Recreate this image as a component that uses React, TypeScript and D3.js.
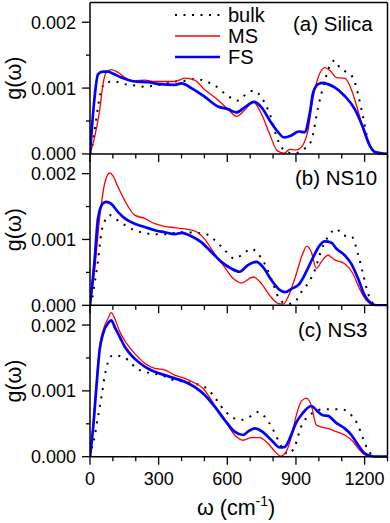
import React from "react";
import * as d3 from "d3";

// phonon density of states g(w); values below are in units of 1e-3
const G_UNIT = 1e-3;

const silicaBulk: [number, number][] = [
  [0, 0], [6, 0.05], [20, 0.35], [35, 0.71], [50, 0.98], [71, 1.09], [108, 1.1], [152, 1.06],
  [195, 1.04], [239, 1.02], [283, 1.04], [326, 1.06], [370, 1.1], [414, 1.11], [457, 1.14],
  [500, 1.11], [545, 1.04], [603, 0.88], [646, 0.81], [690, 0.93], [716, 0.96], [749, 0.86],
  [785, 0.61], [822, 0.2], [858, 0.03], [894, 0.01], [938, 0.08], [967, 0.2], [997, 0.71],
  [1026, 1.11], [1048, 1.34], [1069, 1.42], [1091, 1.31], [1120, 1.24], [1149, 1.16],
  [1171, 0.91], [1193, 0.56], [1215, 0.2], [1237, 0.05], [1258, 0], [1300, 0],
];
const silicaMS: [number, number][] = [
  [0, 0], [20, 0.25], [42, 0.66], [57, 1.06], [71, 1.24], [93, 1.28], [122, 1.24], [152, 1.16],
  [195, 1.11], [239, 1.12], [283, 1.1], [326, 1.1], [370, 1.1], [414, 1.15], [457, 1.12],
  [500, 0.98], [545, 0.86], [603, 0.68], [640, 0.57], [677, 0.67], [713, 0.79], [749, 0.61],
  [785, 0.3], [818, 0.05], [850, 0.01], [872, 0.07], [900, 0.06], [929, 0.13], [952, 0.35],
  [975, 0.86], [997, 1.16], [1026, 1.31], [1048, 1.27], [1077, 1.16], [1113, 1.15],
  [1142, 0.98], [1171, 0.66], [1200, 0.3], [1229, 0.08], [1258, 0.01], [1300, 0],
];
const silicaFS: [number, number][] = [
  [0, 0], [20, 0.86], [35, 1.21], [57, 1.25], [79, 1.25], [100, 1.22], [137, 1.16], [195, 1.1],
  [253, 1.09], [304, 1.06], [370, 1.05], [400, 1.07], [443, 1.0], [500, 0.87], [559, 0.72],
  [603, 0.68], [640, 0.63], [677, 0.71], [717, 0.79], [749, 0.71], [785, 0.51], [822, 0.33],
  [848, 0.25], [880, 0.28], [912, 0.34], [938, 0.33], [960, 0.61], [975, 0.93], [997, 1.06],
  [1018, 1.08], [1040, 1.06], [1069, 1.01], [1113, 0.88], [1157, 0.68], [1193, 0.4],
  [1222, 0.13], [1245, 0.03], [1300, 0],
];

const ns10Bulk: [number, number][] = [
  [0, 0], [6, 0.05], [20, 0.33], [35, 0.68], [50, 1.11], [71, 1.32], [86, 1.37], [108, 1.32],
  [152, 1.22], [195, 1.14], [239, 1.1], [283, 1.08], [326, 1.08], [370, 1.1], [414, 1.11],
  [457, 1.1], [500, 1.09], [545, 0.99], [588, 0.84], [632, 0.71], [669, 0.78], [705, 0.86],
  [734, 0.78], [771, 0.58], [800, 0.33], [830, 0.08], [865, 0.02], [894, 0.05], [923, 0.2],
  [952, 0.33], [982, 0.53], [1011, 0.84], [1040, 1.04], [1077, 1.16], [1106, 1.06],
  [1142, 1.05], [1171, 0.78], [1193, 0.48], [1215, 0.18], [1237, 0.03], [1260, 0], [1300, 0],
];
const ns10MS: [number, number][] = [
  [0, 0], [20, 0.53], [42, 1.32], [64, 1.85], [86, 2.01], [100, 1.97], [122, 1.8], [152, 1.59],
  [195, 1.37], [239, 1.32], [283, 1.24], [326, 1.2], [370, 1.18], [414, 1.16], [457, 1.13],
  [500, 1.01], [545, 0.78], [588, 0.58], [625, 0.41], [662, 0.34], [713, 0.43], [749, 0.33],
  [785, 0.15], [822, 0.03], [844, 0.02], [872, 0.18], [900, 0.46], [929, 0.78], [948, 0.9],
  [967, 0.81], [989, 0.56], [1011, 0.66], [1040, 0.76], [1069, 0.69], [1113, 0.63],
  [1149, 0.48], [1178, 0.25], [1207, 0.08], [1237, 0.01], [1300, 0],
];
const ns10FS: [number, number][] = [
  [0, 0], [20, 0.68], [35, 1.32], [57, 1.55], [71, 1.57], [93, 1.54], [122, 1.42], [152, 1.32],
  [195, 1.24], [239, 1.19], [283, 1.14], [326, 1.11], [370, 1.08], [400, 1.1], [443, 1.05],
  [486, 0.96], [530, 0.81], [574, 0.66], [617, 0.56], [654, 0.51], [690, 0.61], [727, 0.66],
  [756, 0.58], [793, 0.38], [830, 0.23], [852, 0.2], [880, 0.25], [916, 0.33], [945, 0.51],
  [975, 0.73], [1004, 0.91], [1026, 0.97], [1055, 0.95], [1077, 0.86], [1113, 0.76],
  [1142, 0.63], [1171, 0.41], [1200, 0.15], [1229, 0.03], [1250, 0], [1300, 0],
];

const ns3Bulk: [number, number][] = [
  [0, 0], [6, 0.1], [20, 0.3], [35, 0.61], [50, 0.91], [64, 1.22], [79, 1.44], [100, 1.54],
  [130, 1.53], [166, 1.47], [203, 1.34], [239, 1.29], [283, 1.26], [326, 1.22], [370, 1.16],
  [414, 1.14], [457, 1.11], [500, 1.06], [537, 0.94], [574, 0.76], [617, 0.61], [662, 0.56],
  [705, 0.62], [734, 0.68], [763, 0.61], [800, 0.41], [837, 0.15], [865, 0.04], [894, 0.15],
  [923, 0.46], [952, 0.61], [982, 0.68], [1011, 0.72], [1055, 0.72], [1098, 0.72],
  [1142, 0.63], [1171, 0.48], [1193, 0.28], [1215, 0.1], [1237, 0.02], [1260, 0], [1300, 0],
];
const ns3MS: [number, number][] = [
  [0, 0], [13, 0.46], [28, 1.11], [42, 1.67], [57, 1.92], [79, 2.1], [93, 2.19], [108, 2.1],
  [130, 1.9], [160, 1.72], [195, 1.57], [239, 1.42], [283, 1.34], [326, 1.32], [370, 1.24],
  [414, 1.19], [457, 1.12], [493, 1.04], [545, 0.78], [588, 0.56], [632, 0.33], [669, 0.25],
  [705, 0.29], [741, 0.29], [778, 0.2], [808, 0.08], [834, 0.01], [858, 0.08], [880, 0.3],
  [900, 0.61], [923, 0.84], [945, 0.89], [967, 0.78], [989, 0.48], [1011, 0.45],
  [1040, 0.43], [1077, 0.38], [1113, 0.33], [1149, 0.23], [1178, 0.1], [1200, 0.03],
  [1230, 0], [1300, 0],
];
const ns3FS: [number, number][] = [
  [0, 0], [13, 0.41], [28, 1.06], [42, 1.62], [57, 1.87], [79, 2.03], [93, 2.07], [108, 1.97],
  [130, 1.82], [152, 1.67], [195, 1.49], [239, 1.37], [283, 1.29], [326, 1.24], [370, 1.19],
  [414, 1.14], [457, 1.06], [500, 0.94], [545, 0.76], [588, 0.56], [632, 0.38], [669, 0.33],
  [690, 0.38], [720, 0.43], [749, 0.39], [793, 0.25], [830, 0.14], [852, 0.15], [873, 0.28],
  [900, 0.51], [929, 0.66], [967, 0.77], [997, 0.68], [1018, 0.63], [1040, 0.62],
  [1077, 0.51], [1113, 0.43], [1142, 0.33], [1171, 0.18], [1200, 0.05], [1229, 0.01],
  [1250, 0], [1300, 0],
];

const panelLabels = ["(a) Silica", "(b) NS10", "(c) NS3"];
const seriesNames = ["bulk", "MS", "FS"];
const xMajorTicks = [0, 300, 600, 900, 1200];
const xMinorTicks = [100, 200, 400, 500, 700, 800, 1000, 1100, 1300];
const yMajorTicks = [0, 0.001, 0.002];
const yMinorTicks = [0.0005, 0.0015];

const panelData = [
  [silicaBulk, silicaMS, silicaFS],
  [ns10Bulk, ns10MS, ns10FS],
  [ns3Bulk, ns3MS, ns3FS],
];

const W = 390;
const H = 523;
const left = 90;
const right = 387.5;
const top = 2.5;
const panelH = 151.4;
const font = "'Liberation Sans', Arial, Helvetica, sans-serif";

const styles = [
  { stroke: "#000", width: 2, dash: "2 6.5" },
  { stroke: "#ff0000", width: 1.3, dash: undefined },
  { stroke: "#0000ff", width: 2.7, dash: undefined },
];

// label placement per panel (x, baseline)
const labelPos = [
  [293, 30.7],
  [295, 185],
  [298, 336.7],
];

export default function App() {
  const x = d3.scaleLinear().domain([0, 1300]).range([left, right]);

  return (
    <svg
      width={W}
      height={H}
      style={{ position: "absolute", left: 0, top: 0, background: "#fff" }}
      fontFamily={font}
    >
      {panelData.map((series, i) => {
        const y0 = top + i * panelH;
        const y = d3.scaleLinear().domain([0, 0.0023]).range([y0 + panelH, y0]);
        const line = d3
          .line<[number, number]>()
          .x((d) => x(d[0]))
          .y((d) => y(d[1] * G_UNIT))
          .curve(d3.curveMonotoneX);
        const bottom = y(0);
        return (
          <g key={i}>
            <defs>
              <clipPath id={`clip${i}`}>
                <rect x={left} y={y0 - 1} width={right - left} height={panelH + 2} />
              </clipPath>
            </defs>
            <g clipPath={`url(#clip${i})`}>
              {series.map((d, k) => (
                <path
                  key={k}
                  d={line(d) || ""}
                  fill="none"
                  stroke={styles[k].stroke}
                  strokeWidth={styles[k].width}
                  strokeDasharray={styles[k].dash}
                  strokeLinejoin="round"
                />
              ))}
            </g>
            {/* frame */}
            <line x1={left} x2={left} y1={y0} y2={bottom} stroke="#000" strokeWidth={1.5} />
            <line x1={right} x2={right} y1={y0} y2={bottom} stroke="#000" strokeWidth={1.5} />
            <line x1={left} x2={right} y1={bottom} y2={bottom} stroke="#000" strokeWidth={1.5} />
            {i === 0 && (
              <line x1={left} x2={right} y1={y0} y2={y0} stroke="#000" strokeWidth={1.5} />
            )}
            {xMajorTicks.map((t) => (
              <line key={t} x1={x(t)} x2={x(t)} y1={bottom} y2={bottom + 8} stroke="#000" strokeWidth={1.3} />
            ))}
            {xMinorTicks.map((t) => (
              <line key={t} x1={x(t)} x2={x(t)} y1={bottom} y2={bottom + 4.5} stroke="#000" strokeWidth={1.3} />
            ))}
            {yMajorTicks.map((t) => (
              <g key={t}>
                <line x1={left - 8} x2={left} y1={y(t)} y2={y(t)} stroke="#000" strokeWidth={1.3} />
                <text x={76} y={y(t)} dy="0.36em" textAnchor="end" fontSize={18}>
                  {d3.format(".3f")(t)}
                </text>
              </g>
            ))}
            {yMinorTicks.map((t) => (
              <line key={t} x1={left - 4} x2={left} y1={y(t)} y2={y(t)} stroke="#000" strokeWidth={1.3} />
            ))}
            <text x={labelPos[i][0]} y={labelPos[i][1]} fontSize={20.5}>
              {panelLabels[i]}
            </text>
            <text
              transform={`translate(20.5, ${y0 + panelH / 2}) rotate(-90)`}
              textAnchor="middle"
              fontSize={21.5}
            >
              g(ω)
            </text>
            {i === 2 &&
              xMajorTicks.map((t) => (
                <text key={t} x={x(t)} y={485} textAnchor="middle" fontSize={18}>
                  {t}
                </text>
              ))}
          </g>
        );
      })}

      {/* legend */}
      {seriesNames.map((name, k) => {
        const ly = [15, 36, 57][k];
        return (
          <g key={name}>
            <line
              x1={175}
              x2={220}
              y1={ly}
              y2={ly}
              stroke={styles[k].stroke}
              strokeWidth={styles[k].width}
              strokeDasharray={styles[k].dash}
            />
            <text x={228} y={ly + 7.3} fontSize={20}>
              {name}
            </text>
          </g>
        );
      })}

      <text x={197} y={515} fontSize={21.5}>
        ω (cm
        <tspan fontSize={14} dy={-9}>
          -1
        </tspan>
        <tspan dy={9}>)</tspan>
      </text>
    </svg>
  );
}
